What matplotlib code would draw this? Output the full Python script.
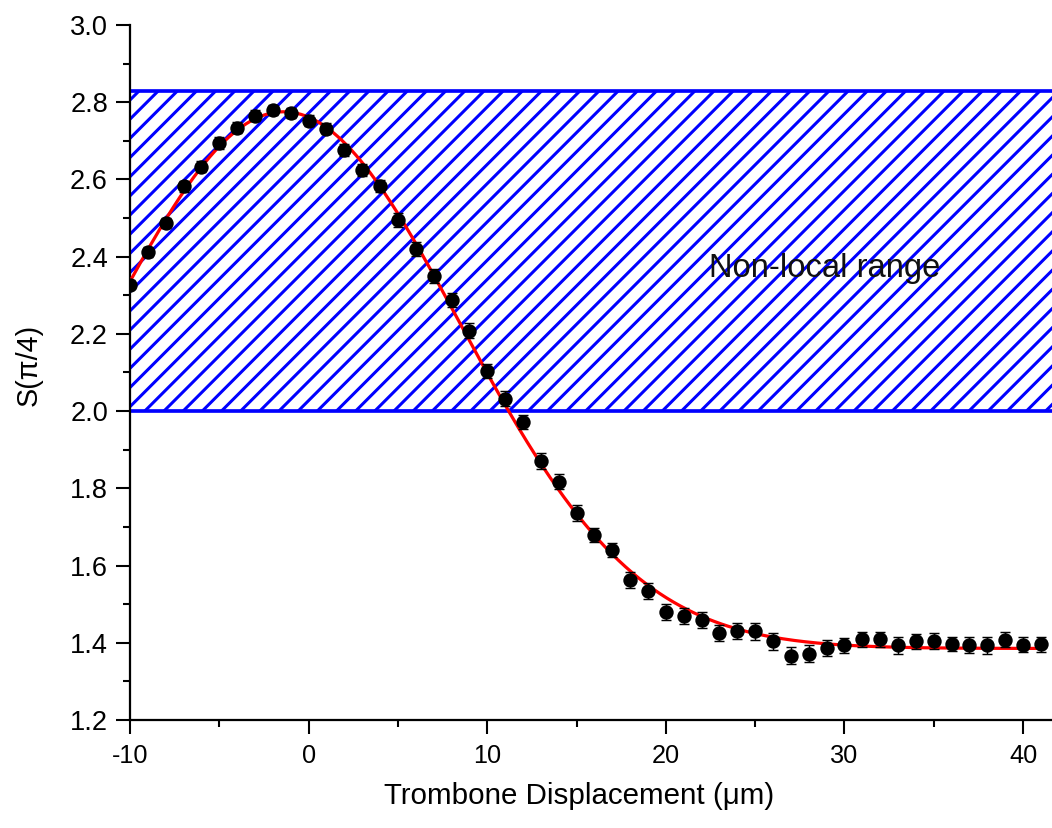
import numpy as np
import matplotlib
matplotlib.use("Agg")
import matplotlib.pyplot as plt
from matplotlib.ticker import MultipleLocator
from matplotlib import font_manager

# Measured CHSH parameter versus trombone displacement
displacement = [-10, -9, -8, -7, -6, -5, -4, -3, -2, -1, 0, 1, 2, 3, 4, 5, 6, 7, 8, 9,
                10, 11, 12, 13, 14, 15, 16, 17, 18, 19, 20, 21, 22, 23, 24, 25, 26, 27,
                28, 29, 30, 31, 32, 33, 34, 35, 36, 37, 38, 39, 40, 41]
s_value = [2.327, 2.412, 2.487, 2.582, 2.633, 2.695, 2.734, 2.765, 2.780, 2.773,
           2.752, 2.731, 2.677, 2.625, 2.583, 2.495, 2.420, 2.350, 2.288, 2.208,
           2.104, 2.032, 1.972, 1.871, 1.817, 1.736, 1.679, 1.640, 1.563, 1.534,
           1.480, 1.469, 1.459, 1.426, 1.431, 1.430, 1.404, 1.366, 1.371, 1.386,
           1.393, 1.409, 1.409, 1.393, 1.404, 1.405, 1.397, 1.394, 1.393, 1.408,
           1.395, 1.396]
s_error = [0.012, 0.014, 0.014, 0.015, 0.015, 0.015, 0.014, 0.014, 0.013, 0.013,
           0.014, 0.014, 0.015, 0.016, 0.016, 0.017, 0.018, 0.019, 0.018, 0.019,
           0.019, 0.020, 0.019, 0.020, 0.019, 0.020, 0.019, 0.019, 0.020, 0.021,
           0.021, 0.021, 0.020, 0.021, 0.021, 0.022, 0.022, 0.022, 0.022, 0.020,
           0.020, 0.019, 0.020, 0.021, 0.019, 0.020, 0.019, 0.020, 0.021, 0.019,
           0.019, 0.020]

LOCAL_BOUND = 2.0
TSIRELSON_BOUND = 2.828
x_ticks = [-10, 0, 10, 20, 30, 40]
y_ticks = [1.2, 1.4, 1.6, 1.8, 2.0, 2.2, 2.4, 2.6, 2.8, 3.0]

x = np.asarray(displacement, dtype=float)
y = np.asarray(s_value, dtype=float)


def gaussian_fit(xd, yd):
    """Least-squares fit of offset + amplitude * exp(-((x - x0) / w)^2)."""
    best = None
    for x0 in np.linspace(-5, 2, 141):
        for w in np.linspace(10, 18, 161):
            g = np.exp(-((xd - x0) / w) ** 2)
            A = np.vstack([np.ones_like(g), g]).T
            coef, *_ = np.linalg.lstsq(A, yd, rcond=None)
            r = np.sum((A @ coef - yd) ** 2)
            if best is None or r < best[0]:
                best = (r, x0, w, coef)
    _, x0, w, (c, a) = best
    return lambda t: c + a * np.exp(-((t - x0) / w) ** 2)


fit = gaussian_fit(x, y)

plt.rcParams['font.family'] = ['Liberation Sans', 'DejaVu Sans']
plt.rcParams['axes.unicode_minus'] = False
plt.rcParams['hatch.linewidth'] = 1.9
plt.rcParams['hatch.color'] = '#0000ff'

# Condensed face for the x tick labels when it is available
installed = {f.name for f in font_manager.fontManager.ttflist}
narrow = 'Liberation Sans Narrow' if 'Liberation Sans Narrow' in installed else 'Liberation Sans'
xtick_size = 16.6 if narrow == 'Liberation Sans Narrow' else 15.8

DPI = 115
fig = plt.figure(figsize=(1052 / DPI, 828 / DPI), dpi=DPI)
ax = fig.add_axes([130 / 1052, 1 - 720 / 828, 1 - 130 / 1052, (720 - 25) / 828])

# Non-local region between the classical and Tsirelson bounds
ax.fill_between([-10, 41.62], LOCAL_BOUND, TSIRELSON_BOUND, facecolor='none',
                edgecolor='#0000ff', hatch='//', linewidth=0, zorder=1)
ax.axhline(LOCAL_BOUND, color='#0000ff', lw=2.3, zorder=2)
ax.axhline(TSIRELSON_BOUND, color='#0000ff', lw=2.3, zorder=2)

xs = np.linspace(min(displacement), max(displacement), 400)
ax.plot(xs, fit(xs), color='#ff0000', lw=2.0, zorder=3)

ax.errorbar(x, y, yerr=s_error, fmt='o', color='black', ms=8.0,
            elinewidth=0.9, capsize=3.0, capthick=0.9, zorder=4)

ax.text(28.9, 2.37, 'Non-local range', fontsize=20.5, ha='center', va='center',
        color='#111111', zorder=5)

ax.set_xlim(-10, 41.62)
ax.set_ylim(1.2, 3.0)
ax.set_xticks(x_ticks)
ax.set_yticks(y_ticks)
ax.set_yticklabels([f'{v:.1f}' for v in y_ticks])
ax.xaxis.set_minor_locator(MultipleLocator(5))
ax.yaxis.set_minor_locator(MultipleLocator(0.1))

for side in ('top', 'right'):
    ax.spines[side].set_visible(False)
for side in ('left', 'bottom'):
    ax.spines[side].set_linewidth(1.4)

ax.tick_params(which='major', direction='out', length=8.8, width=1.3, labelsize=17, pad=5)
ax.tick_params(which='minor', direction='out', length=4.4, width=1.3)
ax.tick_params(axis='x', which='major', pad=6)
for lab in ax.get_xticklabels():
    lab.set_family([narrow, 'DejaVu Sans'])
    lab.set_fontsize(xtick_size)

ax.set_xlabel('Trombone Displacement (\u03bcm)', fontsize=18.5)
ax.xaxis.set_label_coords(0.487, -0.089)
ax.set_ylabel('S(\u03c0/4)', fontsize=18)
ax.yaxis.set_label_coords(-0.095, 0.511)

fig.savefig('out.png', dpi=DPI)
